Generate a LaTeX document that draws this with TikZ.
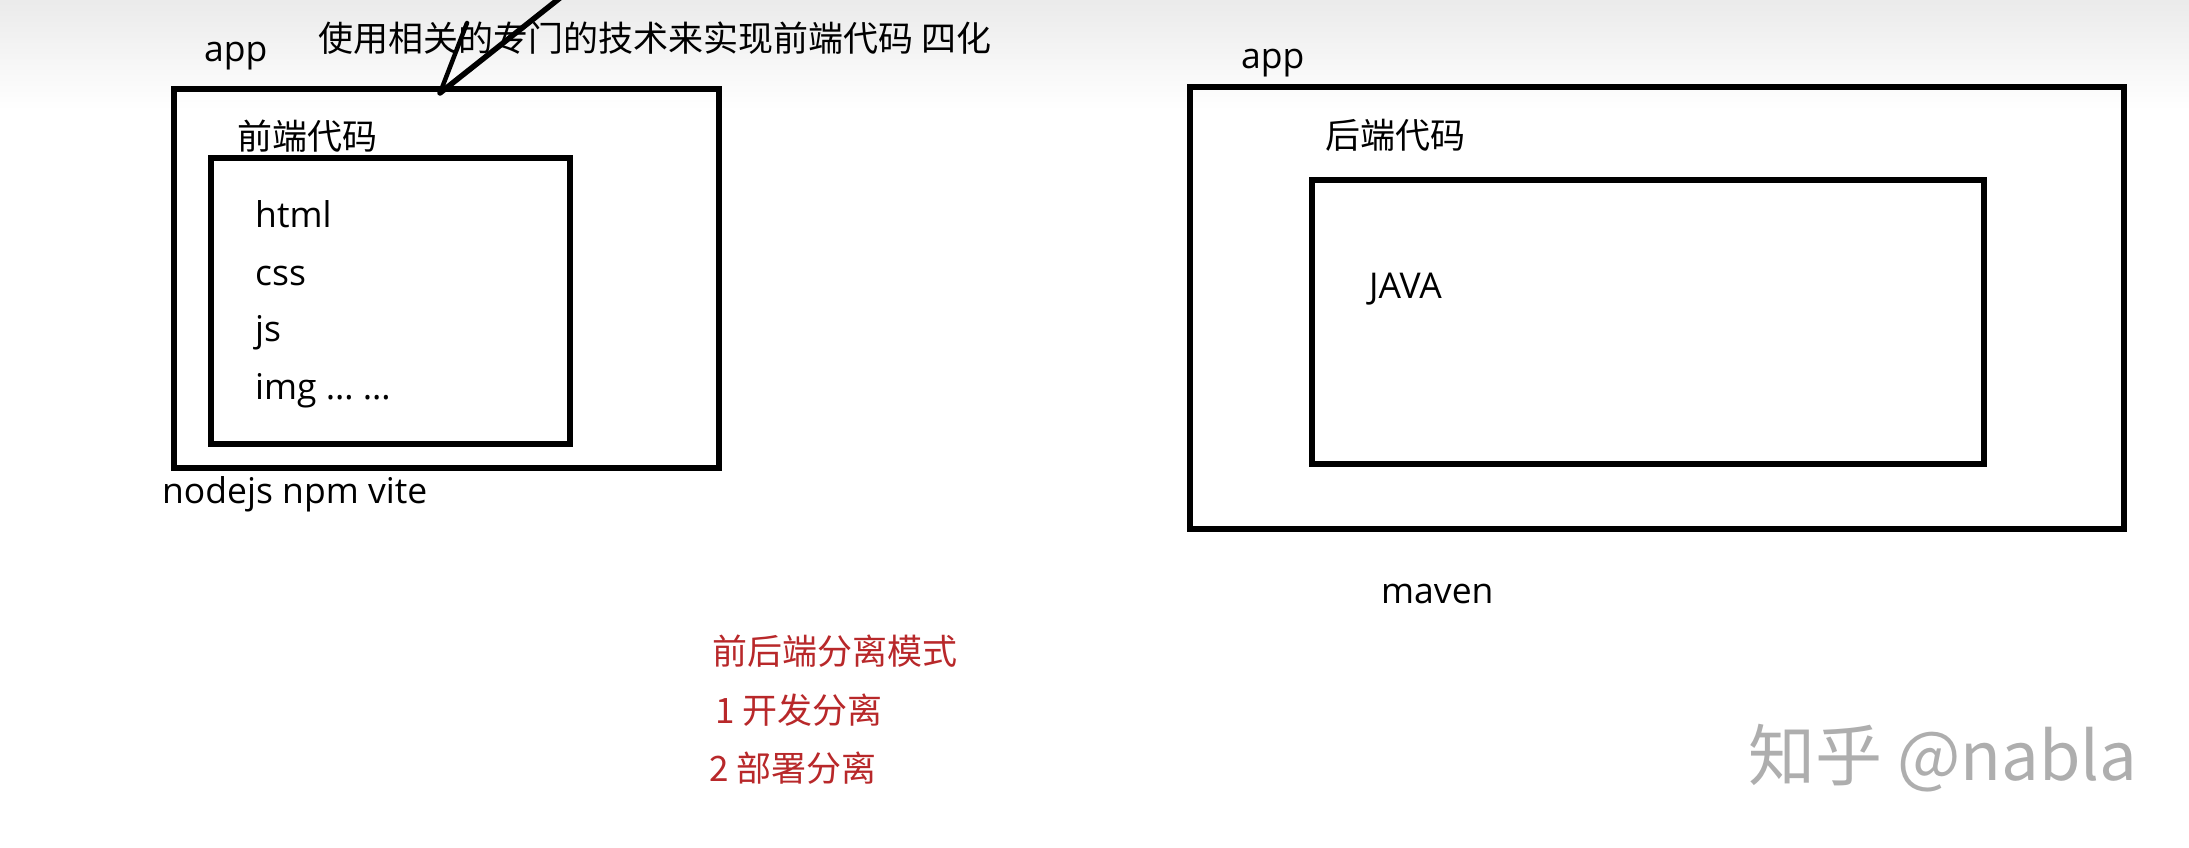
\documentclass[tikz,border=0pt]{standalone}
\usepackage{fontspec}
\setmainfont{Noto Sans CJK SC}
\newfontfamily\latinf{Open Sans}
\definecolor{redtxt}{HTML}{B8282A}
\definecolor{wmgray}{HTML}{AEAEAE}
\begin{document}
\begin{tikzpicture}[x=1pt,y=-1pt,
  outerbox/.style={draw=black,line width=6.5pt},
  innerbox/.style={draw=black,line width=5.5pt},
  cjk/.style={anchor=west,inner sep=0pt,font=\fontsize{35}{40}\selectfont},
  lat/.style={anchor=west,inner sep=0pt,font=\latinf\fontsize{35.5}{40}\selectfont},
  redl/.style={anchor=west,inner sep=0pt,text=redtxt,font=\fontsize{35}{40}\selectfont},
  pen/.style={draw=black,line width=5.5pt,line cap=round}]
\useasboundingbox (0,0) rectangle (2189,848);
\shade[top color=black!8,bottom color=white,draw=none] (0,0) rectangle (2189,110);

% left app
\draw[outerbox] (174,89) rectangle (719,468);
\draw[innerbox] (211,158) rectangle (570,444);
\node[lat] (appL) at (204,56) {app};
\node[cjk] (note) at (318,38) {使用相关的专门的技术来实现前端代码 四化};
\node[cjk] (fe) at (237,136) {前端代码};
\node[lat] (html) at (255,214) {html};
\node[lat] (css) at (255,276) {css};
\node[lat] (js) at (255,333) {js};
\node[lat] (img) at (255,391) {img … …};
\node[lat] (tools) at (162,494) {nodejs npm vite};

% hand-drawn pointer
\coordinate (tip) at (440,93);
\coordinate (tail) at (570,-10);
\coordinate (barb) at (467,23);
\draw[pen] (tip) -- (tail);
\draw[pen,line width=4.5pt] (tip) -- (barb);

% right app
\draw[outerbox] (1190,87) rectangle (2124,529);
\draw[innerbox] (1312,180) rectangle (1984,464);
\node[lat] (appR) at (1241,63) {app};
\node[cjk] (be) at (1325,135) {后端代码};
\node[lat] (java) at (1369,289) {JAVA};
\node[lat] (maven) at (1381,594) {maven};

% red notes
\node[redl] (mode) at (712,651) {前后端分离模式};
\node[redl] (dev) at (715,710) {1 开发分离};
\node[redl] (dep) at (709,768) {2 部署分离};

% watermark
\node[anchor=west,inner sep=0pt,text=wmgray,font=\fontsize{67}{75}\selectfont] (wm) at (1748,758) {知乎 @nabla};
\end{tikzpicture}
\end{document}
